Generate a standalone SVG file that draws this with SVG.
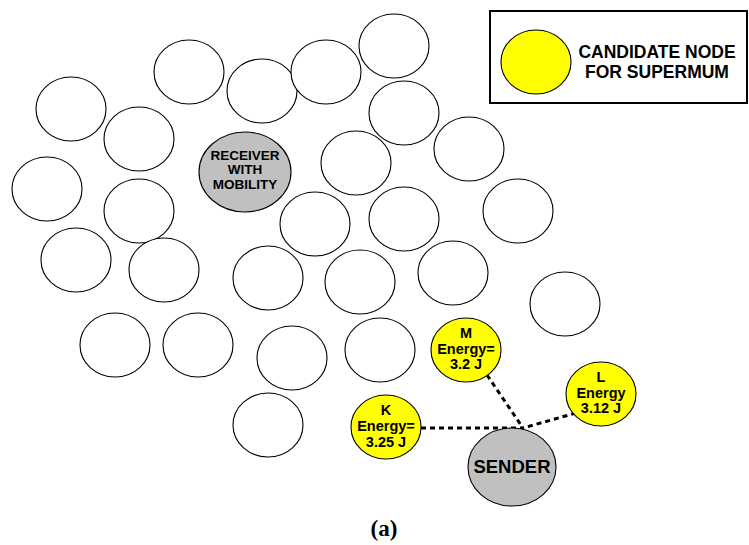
<svg xmlns="http://www.w3.org/2000/svg" width="749" height="545" viewBox="0 0 749 545">
<style>
.n{fill:#fff;stroke:#000;stroke-width:1.1}
.g{fill:#c0c0c0;stroke:#000;stroke-width:1.1}
.y{fill:#ffff00;stroke:#000;stroke-width:1.1}
text{font-family:"Liberation Sans",Arial,sans-serif;font-weight:bold;fill:#000;text-anchor:middle;dominant-baseline:central}
.s{font-size:14.5px}
.r{font-size:13.5px}
.c{stroke:#000;stroke-width:3;stroke-dasharray:5 4;fill:none}
</style>
<rect width="749" height="545" fill="#fff"/>
<g id="legend">
<rect x="490" y="11" width="257" height="92" fill="#fff" stroke="#000" stroke-width="2"/>
<ellipse class="y" cx="536" cy="62" rx="35" ry="32"/>
<text x="657" y="52" style="font-size:17.5px">CANDIDATE NODE</text>
<text x="657" y="72" style="font-size:17.5px">FOR SUPERMUM</text>
</g>
<g id="connectors">
<line class="c" x1="421" y1="428" x2="523" y2="428"/>
<line class="c" x1="487" y1="375" x2="523" y2="428"/>
<line class="c" x1="576" y1="413" x2="523" y2="428"/>
</g>
<g id="n1"><ellipse class="n" cx="71" cy="109" rx="35" ry="32"/></g>
<g id="n2"><ellipse class="n" cx="139" cy="139" rx="35" ry="32"/></g>
<g id="n3"><ellipse class="n" cx="189" cy="72" rx="35" ry="32"/></g>
<g id="n4"><ellipse class="n" cx="262" cy="91" rx="35" ry="32"/></g>
<g id="n5"><ellipse class="n" cx="326" cy="72" rx="35" ry="32"/></g>
<g id="n6"><ellipse class="n" cx="394" cy="46" rx="35" ry="32"/></g>
<g id="n7"><ellipse class="n" cx="404" cy="113" rx="35" ry="32"/></g>
<g id="n8"><ellipse class="n" cx="469" cy="149" rx="35" ry="32"/></g>
<g id="n9"><ellipse class="n" cx="356" cy="163" rx="35" ry="32"/></g>
<g id="n10"><ellipse class="n" cx="47" cy="189" rx="35" ry="32"/></g>
<g id="n11"><ellipse class="n" cx="139" cy="211" rx="35" ry="32"/></g>
<g id="n12"><ellipse class="n" cx="315" cy="224" rx="35" ry="32"/></g>
<g id="n13"><ellipse class="n" cx="404" cy="219" rx="35" ry="32"/></g>
<g id="n14"><ellipse class="n" cx="518" cy="211" rx="35" ry="32"/></g>
<g id="n15"><ellipse class="n" cx="76" cy="260" rx="35" ry="32"/></g>
<g id="n16"><ellipse class="n" cx="164" cy="270" rx="35" ry="32"/></g>
<g id="n17"><ellipse class="n" cx="268" cy="278" rx="35" ry="32"/></g>
<g id="n18"><ellipse class="n" cx="360" cy="282" rx="35" ry="32"/></g>
<g id="n19"><ellipse class="n" cx="453" cy="273" rx="35" ry="32"/></g>
<g id="n20"><ellipse class="n" cx="565" cy="304" rx="35" ry="32"/></g>
<g id="n21"><ellipse class="n" cx="115" cy="345" rx="35" ry="32"/></g>
<g id="n22"><ellipse class="n" cx="198" cy="345" rx="35" ry="32"/></g>
<g id="n23"><ellipse class="n" cx="292" cy="358" rx="35" ry="32"/></g>
<g id="n24"><ellipse class="n" cx="380" cy="350" rx="35" ry="32"/></g>
<g id="n25"><ellipse class="n" cx="268" cy="425" rx="35" ry="32"/></g>
<g id="receiver">
<ellipse class="g" cx="245" cy="172" rx="46" ry="40"/>
<text class="r" x="245" y="155">RECEIVER</text>
<text class="r" x="245" y="169.5">WITH</text>
<text class="r" x="245" y="184">MOBILITY</text>
</g>
<g id="nodeM">
<ellipse class="y" cx="466" cy="350" rx="35" ry="32"/>
<text class="s" x="466" y="333">M</text>
<text class="s" x="466" y="349">Energy=</text>
<text class="s" x="466" y="364">3.2 J</text>
</g>
<g id="nodeK">
<ellipse class="y" cx="386" cy="427" rx="35" ry="32"/>
<text class="s" x="386" y="410">K</text>
<text class="s" x="386" y="426">Energy=</text>
<text class="s" x="386" y="442">3.25 J</text>
</g>
<g id="nodeL">
<ellipse class="y" cx="601" cy="394" rx="35" ry="32"/>
<text class="s" x="601" y="377">L</text>
<text class="s" x="601" y="393">Energy</text>
<text class="s" x="601" y="408">3.12 J</text>
</g>
<g id="sender">
<ellipse class="g" cx="512" cy="467" rx="44" ry="39"/>
<text x="512" y="466" style="font-size:18.5px">SENDER</text>
</g>
<text x="384" y="528" style="font-family:'Liberation Serif','DejaVu Serif',serif;font-size:23px">(a)</text>
</svg>
